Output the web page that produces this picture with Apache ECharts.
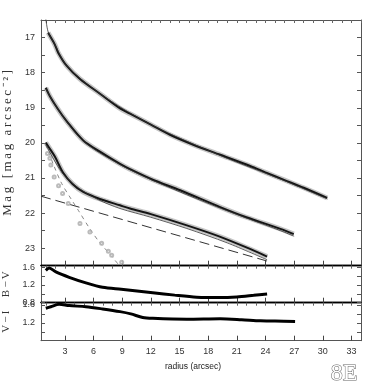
<!DOCTYPE html>
<html><head><meta charset="utf-8">
<script src="https://cdn.jsdelivr.net/npm/echarts@6/dist/echarts.min.js"></script>
<style>html,body{margin:0;padding:0;background:#fff}#c{width:382px;height:382px}</style>
</head><body><div id="c"></div>
<script>
// ---- data ----
const xMajorTicks = [3, 6, 9, 12, 15, 18, 21, 24, 27, 30, 33];
const xMinorTicks = [1,2,3,4,5,6,7,8,9,10,11,12,13,14,15,16,17,18,19,20,21,22,23,24,25,26,27,28,29,30,31,32,33,34];
const magLabels = [17, 18, 19, 20, 21, 22, 23];
const magTicks = [17, 17.5, 18, 18.5, 19, 19.5, 20, 20.5, 21, 21.5, 22, 22.5, 23];
const bvLabels = [0.8, 1.2, 1.6];
const bvTicks = [0.8, 1.0, 1.2, 1.4, 1.6];
const viLabels = [1.2, 1.6];
const viTicks = [1.0, 1.2, 1.4, 1.6];

const upperR   = [1.25, 1.43, 1.95, 2.3, 3.18, 4.58, 6.67, 8.77, 9.82, 12.0, 14.0, 16.5, 19.26, 22.4, 24.0, 26.0, 28.0, 30.46];
const upperMag = [16.86, 16.95, 17.2, 17.43, 17.8, 18.18, 18.6, 19.02, 19.17, 19.48, 19.77, 20.06, 20.34, 20.66, 20.84, 21.06, 21.28, 21.57];
const upperFitR   = [0.95, 1.25, 1.95, 3.18, 6.67, 12.0, 19.26, 26.0, 30.5];
const upperFitMag = [16.35, 16.84, 17.2, 17.8, 18.6, 19.48, 20.36, 21.08, 21.6];

const middleR   = [1.0, 1.43, 2.3, 3.18, 4.92, 6.67, 8.77, 9.82, 12.2, 15.07, 19.26, 22.0, 25.56, 26.96];
const middleMag = [18.43, 18.67, 19.05, 19.38, 19.93, 20.25, 20.6, 20.75, 21.05, 21.35, 21.83, 22.12, 22.45, 22.6];
const middleFitR   = [1.0, 2.3, 4.92, 8.77, 12.2, 19.26, 25.56, 27.0];
const middleFitMag = [18.45, 19.06, 19.95, 20.62, 21.07, 21.86, 22.5, 22.66];

const lowerR   = [1.0, 1.5, 1.95, 2.82, 3.8, 4.92, 6.67, 8.77, 9.82, 12.0, 15.77, 19.0, 22.0, 24.17];
const lowerMag = [19.99, 20.2, 20.39, 20.85, 21.17, 21.4, 21.6, 21.78, 21.87, 22.03, 22.35, 22.65, 22.98, 23.24];
const lowerFitR   = [1.0, 2.0, 3.0, 4.5, 6.5, 8.77, 12.0, 15.77, 20.0, 24.17];
const lowerFitMag = [20.05, 20.55, 20.95, 21.3, 21.62, 21.87, 22.12, 22.44, 22.85, 23.33];

const diskR   = [0.5, 24.2];
const diskMag = [21.52, 23.37];

const bulgeR   = [1.0, 1.43, 1.77, 2.65, 3.7, 4.4, 5.62, 6.67, 7.72, 8.7];
const bulgeMag = [20.05, 20.35, 20.6, 21.15, 21.62, 21.92, 22.45, 22.85, 23.17, 23.5];
const bulgePtR   = [1.18, 1.43, 1.53, 1.88, 2.34, 2.76, 3.35, 4.58, 5.62, 6.85, 7.55, 7.9, 8.95];
const bulgePtMag = [20.3, 20.44, 20.63, 20.97, 21.22, 21.44, 21.73, 22.3, 22.54, 22.86, 23.09, 23.2, 23.4];

const bvR = [1.0, 1.36, 2.06, 3.45, 5.2, 6.95, 8.9, 12.2, 14.5, 16.8, 19.26, 21.0, 22.76, 24.17];
const bv  = [1.525, 1.58, 1.49, 1.37, 1.245, 1.145, 1.10, 1.025, 0.97, 0.925, 0.915, 0.93, 0.965, 0.995];

const viR = [1.0, 1.53, 2.4, 3.45, 5.2, 6.95, 8.77, 9.9, 11.15, 12.2, 15.77, 19.26, 21.5, 23.46, 25.0, 27.1];
const vi  = [1.525, 1.56, 1.615, 1.585, 1.56, 1.51, 1.45, 1.40, 1.32, 1.30, 1.28, 1.29, 1.27, 1.245, 1.24, 1.23];

// ---- build chart ----
const zip = (a, b) => a.map((v, i) => [v, b[i]]);
const spaced = s => Array.from(s).join('\u2009');
const chart = echarts.init(document.getElementById('c'), null, {renderer: 'canvas'});

const L = 41, W = 320;
const grids = [
  {left: L, top: 20, width: W, height: 245.7},
  {left: L, top: 265.7, width: W, height: 37},
  {left: L, top: 302.7, width: W, height: 38}
].map(g => Object.assign({outerBoundsMode: 'none', containLabel: false}, g));

const sans = 'Liberation Sans';
const serif = 'Liberation Serif';
const frame = '#555';

function xPair(gi, labels) {
  return [
    {gridIndex: gi, type: 'value', position: 'bottom', min: 0.5, max: 34,
     axisLine: {show: true, onZero: false, lineStyle: {color: gi === 2 ? frame : '#000', width: gi === 2 ? 1 : 1.3}},
     axisTick: {show: true, inside: true, length: 5, customValues: xMajorTicks, lineStyle: {color: '#444'}},
     axisLabel: {show: labels, customValues: xMajorTicks, margin: 6, fontSize: 9, fontFamily: sans, color: '#333'},
     splitLine: {show: false},
     name: labels ? 'radius (arcsec)' : '', nameLocation: 'middle', nameGap: 21,
     nameTextStyle: {fontSize: 8.5, fontFamily: sans, color: '#222', padding: [0, 16, 0, 0]}},
    {gridIndex: gi, type: 'value', position: 'top', min: 0.5, max: 34,
     axisLine: {show: true, onZero: false, lineStyle: {color: gi === 0 ? frame : '#000', width: gi === 0 ? 1 : 1.3}},
     axisTick: {show: true, inside: true, length: 3, customValues: xMinorTicks, lineStyle: {color: '#666'}},
     axisLabel: {show: false}, splitLine: {show: false}}
  ];
}
function yPair(gi, min, max, inverse, labels, ticks, name, nameGap, nameSize) {
  return [
    {gridIndex: gi, type: 'value', position: 'left', min, max, inverse,
     axisLine: {show: true, onZero: false, lineStyle: {color: frame}},
     axisTick: {show: true, inside: true, length: 4, customValues: ticks, lineStyle: {color: '#555'}},
     axisLabel: {show: true, customValues: labels, margin: 6, fontSize: 9, fontFamily: sans, color: '#333',
                 formatter: v => max > 5 ? String(v) : v.toFixed(1)},
     splitLine: {show: false},
     name, nameLocation: 'middle', nameRotate: 90, nameGap,
     nameTextStyle: {fontSize: nameSize, fontFamily: serif, color: '#333'}},
    {gridIndex: gi, type: 'value', position: 'right', min, max, inverse,
     axisLine: {show: true, onZero: false, lineStyle: {color: frame}},
     axisTick: {show: true, inside: true, length: 4, customValues: ticks, lineStyle: {color: '#555'}},
     axisLabel: {show: false}, splitLine: {show: false}}
  ];
}

const xAxis = [].concat(xPair(0, false), xPair(1, false), xPair(2, true));
const yAxis = [].concat(
  yPair(0, 16.5, 23.5, true, magLabels, magTicks, spaced('Mag [mag arcsec⁻²]'), 24, 13),
  yPair(1, 0.8, 1.63, false, bvLabels, bvTicks, spaced('B−V'), 24, 11),
  yPair(2, 0.8, 1.65, false, viLabels, viTicks, spaced('V−I'), 24, 11)
);

function thick(r, m, xi, yi) {
  return [
    {type: 'line', xAxisIndex: xi, yAxisIndex: yi, data: zip(r, m), showSymbol: false, smooth: 0.3,
     lineStyle: {color: 'rgba(140,140,140,0.5)', width: 5}, z: 2, silent: true},
    {type: 'line', xAxisIndex: xi, yAxisIndex: yi, data: zip(r, m), showSymbol: false, smooth: 0.3,
     lineStyle: {color: '#151515', width: 2}, z: 3, silent: true}
  ];
}
function thin(r, m) {
  return {type: 'line', xAxisIndex: 0, yAxisIndex: 0, data: zip(r, m), showSymbol: false, smooth: 0.3,
          lineStyle: {color: '#333', width: 0.8}, z: 4, silent: true};
}

const series = [].concat(
  [{type: 'line', xAxisIndex: 0, yAxisIndex: 0, data: zip(diskR, diskMag), showSymbol: false,
    lineStyle: {color: '#333', width: 1, type: [10, 5]}, z: 1, silent: true},
   {type: 'line', xAxisIndex: 0, yAxisIndex: 0, data: zip(bulgeR, bulgeMag), showSymbol: false, smooth: 0.3,
    lineStyle: {color: '#888', width: 1, type: [4, 4]}, z: 1, silent: true},
   {type: 'scatter', xAxisIndex: 0, yAxisIndex: 0, data: zip(bulgePtR, bulgePtMag), symbol: 'emptyCircle', symbolSize: 3,
    itemStyle: {color: '#aaa', borderColor: '#aaa', borderWidth: 0.7}, z: 1, silent: true}],
  thick(upperR, upperMag, 0, 0), thick(middleR, middleMag, 0, 0), thick(lowerR, lowerMag, 0, 0),
  [thin(upperFitR, upperFitMag), thin(middleFitR, middleFitMag), thin(lowerFitR, lowerFitMag)],
  [{type: 'line', xAxisIndex: 2, yAxisIndex: 2, data: zip(bvR, bv), showSymbol: false, smooth: 0.3,
    lineStyle: {color: '#000', width: 3}, silent: true},
   {type: 'line', xAxisIndex: 4, yAxisIndex: 4, data: zip(viR, vi), showSymbol: false, smooth: 0.3,
    lineStyle: {color: '#000', width: 3}, silent: true}]
);

chart.setOption({
  animation: false,
  backgroundColor: '#fff',
  grid: grids,
  xAxis, yAxis, series,
  graphic: [{type: 'text', right: 24, top: 361,
    style: {text: '8E', fontSize: 24, fontFamily: serif, fill: '#fff', stroke: '#666', lineWidth: 1}}]
});
</script></body></html>
